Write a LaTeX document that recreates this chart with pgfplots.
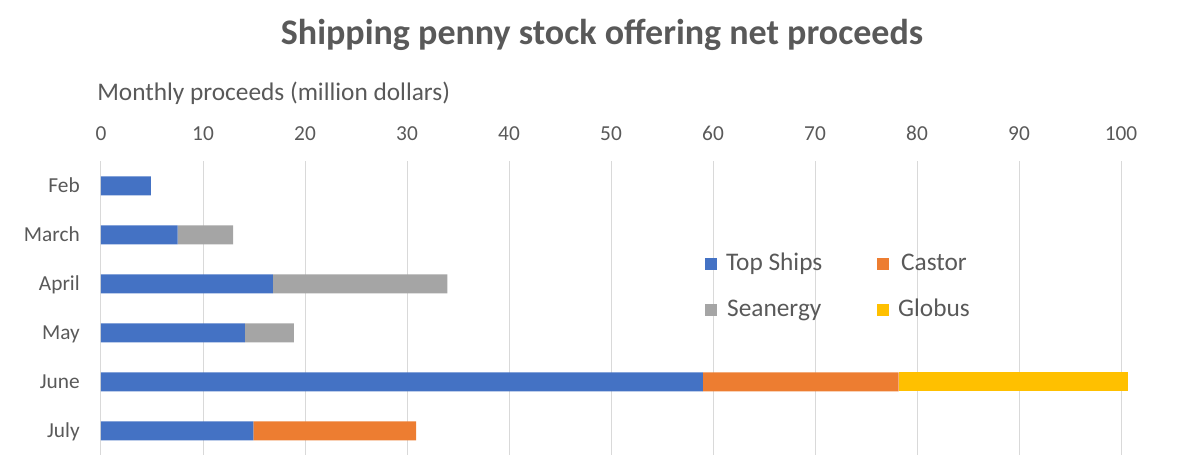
\documentclass[border=0pt]{standalone}
\usepackage{pgfplots}
\pgfplotsset{compat=1.18}
\usepackage{fontspec}
\setmainfont{Carlito}
\definecolor{txt}{HTML}{595959}
\definecolor{cTop}{HTML}{4472C4}
\definecolor{cCas}{HTML}{ED7D31}
\definecolor{cSea}{HTML}{A5A5A5}
\definecolor{cGlo}{HTML}{FFC000}
\definecolor{grd}{HTML}{D9D9D9}
\begin{document}
\begin{tikzpicture}
\useasboundingbox (0,0) rectangle (900pt,354.75pt);
\node[anchor=base, inner sep=0, text=txt, font=\fontsize{27}{27}\selectfont\bfseries] at (451.5pt,321pt) {Shipping penny stock offering net proceeds};
\begin{axis}[
  at={(75.75pt,13.125pt)}, anchor=south west,
  scale only axis, width=765pt, height=220.5pt,
  xbar stacked, bar width=14.25pt,
  xmin=0, xmax=100, ymin=-0.5, ymax=5.5,
  clip=false,
  y dir=reverse,
  ytick={0,1,2,3,4,5},
  yticklabels={Feb,March,April,May,June,July},
  xtick={0,10,...,100},
  xticklabel pos=upper,
  axis line style={draw=none},
  major tick length=0pt,
  xmajorgrids, grid style={grd, line width=0.75pt},
  /pgf/number format/assume math mode=true,
  x tick label style={anchor=base, inner sep=0, yshift=15.4pt, text=txt, font=\fontsize{16}{16}\selectfont},
  y tick label style={anchor=base east, inner sep=0, xshift=-15.75pt, yshift=-5.25pt, text=txt, font=\fontsize{16}{16}\selectfont},
  xlabel={Monthly proceeds (million dollars)},
  xlabel style={at={(axis description cs:0,1)}, anchor=base west, inner sep=0, xshift=-3pt, yshift=45.4pt, text=txt, font=\fontsize{19}{19}\selectfont},
  legend columns=2,
  legend image code/.code={\fill[#1] (0pt,-4.5pt) rectangle (9pt,4.5pt);},
  legend style={draw=none, fill=none, inner sep=0pt, at={(axis cs:59.2,2.06)}, anchor=west,
    font=\fontsize{19}{19}\selectfont, text=txt,
    nodes={inner sep=0pt, text height=14pt, text depth=4pt},
    row sep=16.5pt,
    /tikz/every odd column/.append style={column sep=6.75pt},
    /tikz/every even column/.append style={column sep=41pt}},
  every axis plot/.append style={draw=none},
]
\addplot[fill=cTop] coordinates {(4.9,0) (7.5,1) (16.85,2) (14.1,3) (59.0,4) (14.95,5)};
\addplot[fill=cCas] coordinates {(0,0) (0,1) (0,2) (0,3) (19.2,4) (15.95,5)};
\addplot[fill=cSea] coordinates {(0,0) (5.45,1) (17.1,2) (4.8,3) (0,4) (0,5)};
\addplot[fill=cGlo] coordinates {(0,0) (0,1) (0,2) (0,3) (22.5,4) (0,5)};
\legend{Top Ships,Castor,Seanergy,Globus}
\end{axis}
\end{tikzpicture}
\end{document}
